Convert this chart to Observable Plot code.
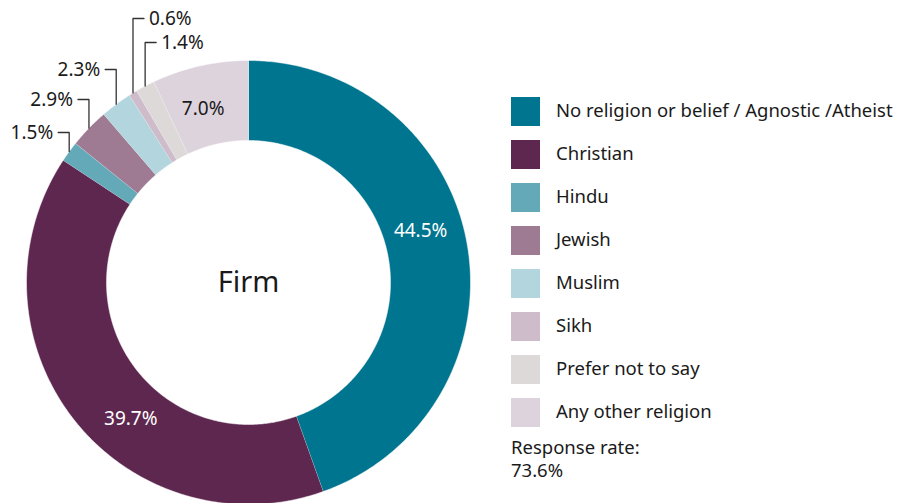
<!DOCTYPE html>
<html>
<head>
<meta charset="utf-8">
<script src="https://cdn.jsdelivr.net/npm/d3@7"></script>
<script src="https://cdn.jsdelivr.net/npm/@observablehq/plot@0.6"></script>
<style>
  body { margin: 0; background: #fff; font-family: "Noto Sans", sans-serif; color: #1a1a1a; }
  #wrap { position: relative; width: 898px; height: 503px; overflow: hidden; }
  #chart { position: absolute; left: 0; top: 0; }
  #legend { position: absolute; left: 511px; top: 97px; }
  .row { display: flex; align-items: center; height: 29px; margin-bottom: 14px; }
  .sw { width: 29px; height: 29px; margin-right: 16px; flex: none; }
  .lt { font-size: 18.5px; white-space: nowrap; position: relative; top: -2px; }
  #rr { position: absolute; left: 511px; top: 435px; font-size: 18.5px; line-height: 23px; }
</style>
</head>
<body>
<div id="wrap">
  <div id="chart"></div>
  <div id="legend"></div>
  <div id="rr"></div>
</div>
<script>
// ---- data ----
const categories = ["No religion or belief / Agnostic /Atheist", "Christian", "Hindu", "Jewish", "Muslim", "Sikh", "Prefer not to say", "Any other religion"];
const values = [44.5, 39.7, 1.5, 2.9, 2.3, 0.6, 1.4, 7.0];
const colors = ["#00758f", "#5e2750", "#64a9b8", "#9e7b93", "#b3d5de", "#cfbccb", "#dcd9d8", "#ddd3dd"];
const centerLabel = "Firm";
const responseLabel = "Response rate:";
const responseRate = "73.6%";

// ---- layout ----
const W = 898, H = 503, CX = 248, CY = 282, R = 222; // pixels per unit radius
const innerR = 142 / 222;
const labelR = 0.81;
// inside labels: angle offset in degrees; outside labels: pixel y of label and side
const inside = {0: -7, 1: -11, 7: -2};
const outside = {2: {py: 132, side: -1}, 3: {py: 99, side: -1}, 4: {py: 69, side: -1}, 5: {py: 18, side: 1}, 6: {py: 42, side: 1}};
const hook = 11 / R, gap = 5 / R;
const pctSize = 19;

const total = d3.sum(values);
let acc = 0;
const slices = values.map((v, i) => {
  const a0 = acc / total * 2 * Math.PI;
  acc += v;
  const a1 = acc / total * 2 * Math.PI;
  return {cat: categories[i], value: v, a0, a1, i};
});

const pts = [];
for (const s of slices) {
  const n = Math.max(4, Math.ceil((s.a1 - s.a0) / 0.01));
  for (let k = 0; k <= n; k++) {
    const a = s.a0 + (s.a1 - s.a0) * k / n;
    pts.push({cat: s.cat, x: Math.sin(a), y: Math.cos(a)});
  }
  for (let k = n; k >= 0; k--) {
    const a = s.a0 + (s.a1 - s.a0) * k / n;
    pts.push({cat: s.cat, x: innerR * Math.sin(a), y: innerR * Math.cos(a)});
  }
}

const fmt = v => v.toFixed(1) + "%";

const inLabels = slices.filter(s => s.i in inside).map(s => {
  const a = (s.a0 + s.a1) / 2 + inside[s.i] * Math.PI / 180;
  return {x: labelR * Math.sin(a), y: labelR * Math.cos(a), text: fmt(s.value), light: s.i < 2};
});

const leaders = [], outLabels = [];
for (const s of slices.filter(s => s.i in outside)) {
  const o = outside[s.i];
  const a = (s.a0 + s.a1) / 2;
  const x0 = Math.sin(a), y0 = Math.cos(a);
  const yl = (CY - o.py) / R;
  leaders.push({k: s.i, x: x0, y: y0}, {k: s.i, x: x0, y: yl}, {k: s.i, x: x0 + o.side * hook, y: yl});
  outLabels.push({x: x0 + o.side * (hook + gap), y: yl, text: fmt(s.value), anchor: o.side < 0 ? "end" : "start"});
}

const chart = Plot.plot({
  width: W, height: H, margin: 0,
  x: {domain: [-CX / R, (W - CX) / R], axis: null},
  y: {domain: [-(H - CY) / R, CY / R], axis: null},
  color: {domain: categories, range: colors},
  style: {fontFamily: "Noto Sans, sans-serif", background: "transparent"},
  marks: [
    Plot.line(pts, {x: "x", y: "y", z: "cat", fill: "cat", stroke: "white", strokeWidth: 0.5, curve: "linear"}),
    Plot.line(leaders, {x: "x", y: "y", z: "k", stroke: "#333", strokeWidth: 1.3, curve: "linear"}),
    Plot.text(inLabels, {x: "x", y: "y", text: "text", fill: d => d.light ? "#ffffff" : "#1a1a1a", fontSize: pctSize}),
    Plot.text(outLabels.filter(d => d.anchor === "end"), {x: "x", y: "y", text: "text", textAnchor: "end", fill: "#1a1a1a", fontSize: pctSize}),
    Plot.text(outLabels.filter(d => d.anchor === "start"), {x: "x", y: "y", text: "text", textAnchor: "start", fill: "#1a1a1a", fontSize: pctSize}),
    Plot.text([centerLabel], {x: 0, y: 0, text: d => d, fill: "#1a1a1a", fontSize: 29})
  ]
});
document.getElementById("chart").appendChild(chart);

const lg = document.getElementById("legend");
categories.forEach((c, i) => {
  const row = document.createElement("div");
  row.className = "row";
  row.innerHTML = `<div class="sw" style="background:${colors[i]}"></div><div class="lt">${c}</div>`;
  lg.appendChild(row);
});
document.getElementById("rr").innerHTML = responseLabel + "<br>" + responseRate;
</script>
</body>
</html>
